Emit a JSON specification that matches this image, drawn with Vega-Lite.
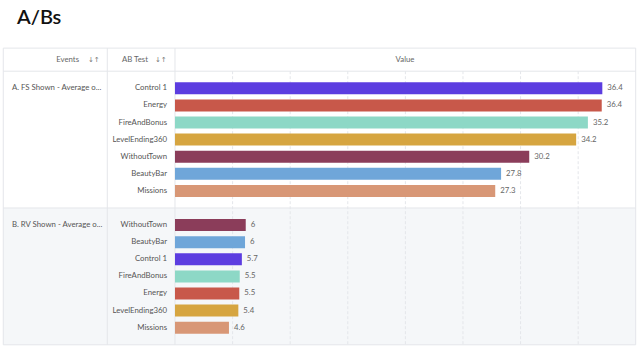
{
  "$schema": "https://vega.github.io/schema/vega-lite/v6.json",
  "width": 640,
  "height": 358,
  "autosize": {"type": "none"},
  "padding": 0,
  "background": "white",
  "config": {"view": {"stroke": null}, "font": "Lato", "text": {"font": "Lato"}},
  "datasets": {
    "abtests": [
      {"Event": "A. FS Shown - Average o...", "AB Test": "Control 1", "Value": 36.43},
      {"Event": "A. FS Shown - Average o...", "AB Test": "Energy", "Value": 36.38},
      {"Event": "A. FS Shown - Average o...", "AB Test": "FireAndBonus", "Value": 35.2},
      {"Event": "A. FS Shown - Average o...", "AB Test": "LevelEnding360", "Value": 34.2},
      {"Event": "A. FS Shown - Average o...", "AB Test": "WithoutTown", "Value": 30.2},
      {"Event": "A. FS Shown - Average o...", "AB Test": "BeautyBar", "Value": 27.8},
      {"Event": "A. FS Shown - Average o...", "AB Test": "Missions", "Value": 27.3},
      {"Event": "B. RV Shown - Average o...", "AB Test": "WithoutTown", "Value": 6.03},
      {"Event": "B. RV Shown - Average o...", "AB Test": "BeautyBar", "Value": 5.97},
      {"Event": "B. RV Shown - Average o...", "AB Test": "Control 1", "Value": 5.7},
      {"Event": "B. RV Shown - Average o...", "AB Test": "FireAndBonus", "Value": 5.52},
      {"Event": "B. RV Shown - Average o...", "AB Test": "Energy", "Value": 5.48},
      {"Event": "B. RV Shown - Average o...", "AB Test": "LevelEnding360", "Value": 5.4},
      {"Event": "B. RV Shown - Average o...", "AB Test": "Missions", "Value": 4.6}
    ],
    "gridlines": [{"at": 4.91}, {"at": 9.82}, {"at": 14.73}, {"at": 19.64}, {"at": 24.55}, {"at": 29.46}, {"at": 34.37}]
  },
  "layer": [
    {
      "data": {"values": [{}]},
      "mark": {"type": "rect", "fill": "#f5f7f9"},
      "encoding": {
        "x": {"datum": -14.64, "type": "quantitative", "axis": null, "scale": {"domain": [-14.919, 39.642], "nice": false, "zero": false}},
        "x2": {"datum": 39.275},
        "y": {"datum": "gap", "type": "nominal", "axis": null, "scale": {"domain": ["title","pad","header","hline","A:Control 1","A:Energy","A:FireAndBonus","A:LevelEnding360","A:WithoutTown","A:BeautyBar","A:Missions","gap","B:WithoutTown","B:BeautyBar","B:Control 1","B:FireAndBonus","B:Energy","B:LevelEnding360","B:Missions","end"], "paddingInner": 0.3, "paddingOuter": 0.618, "align": 0.6585, "round": false}},
        "y2": {"datum": "end"}
      }
    },
    {
      "data": {"name": "gridlines"},
      "mark": {"type": "rule", "stroke": "#e4e6ea", "strokeWidth": 1, "strokeDash": [3, 2]},
      "encoding": {
        "x": {"field": "at", "type": "quantitative", "axis": null, "scale": {"domain": [-14.919, 39.642], "nice": false, "zero": false}},
        "y": {"datum": "hline", "type": "nominal", "axis": null},
        "y2": {"datum": "end"}
      }
    },
    {
      "data": {"values": [{"line": "hline"}, {"line": "gap"}, {"line": "end"}]},
      "mark": {"type": "rule", "stroke": "#e4e6ea", "strokeWidth": 1},
      "encoding": {
        "x": {"datum": -14.64, "type": "quantitative", "axis": null, "scale": {"domain": [-14.919, 39.642], "nice": false, "zero": false}},
        "x2": {"datum": 39.275},
        "y": {"field": "line", "type": "nominal", "axis": null}
      }
    },
    {
      "data": {"values": [{}]},
      "mark": {"type": "rule", "stroke": "#e4e6ea", "strokeWidth": 1},
      "encoding": {
        "x": {"datum": -14.64, "type": "quantitative", "axis": null, "scale": {"domain": [-14.919, 39.642], "nice": false, "zero": false}},
        "x2": {"datum": 39.275},
        "y": {"datum": "header", "type": "nominal", "bandPosition": 0, "axis": null}
      }
    },
    {
      "data": {"values": [{}]},
      "mark": {"type": "rule", "stroke": "#e4e6ea", "strokeWidth": 1},
      "encoding": {
        "x": {"datum": -14.64, "type": "quantitative", "axis": null, "scale": {"domain": [-14.919, 39.642], "nice": false, "zero": false}},
        "y": {"datum": "header", "type": "nominal", "bandPosition": 0, "axis": null},
        "y2": {"datum": "end"}
      }
    },
    {
      "data": {"values": [{}]},
      "mark": {"type": "rule", "stroke": "#e4e6ea", "strokeWidth": 1},
      "encoding": {
        "x": {"datum": -5.772, "type": "quantitative", "axis": null, "scale": {"domain": [-14.919, 39.642], "nice": false, "zero": false}},
        "y": {"datum": "header", "type": "nominal", "bandPosition": 0, "axis": null},
        "y2": {"datum": "end"}
      }
    },
    {
      "data": {"values": [{}]},
      "mark": {"type": "rule", "stroke": "#e4e6ea", "strokeWidth": 1},
      "encoding": {
        "x": {"datum": 0, "type": "quantitative", "axis": null, "scale": {"domain": [-14.919, 39.642], "nice": false, "zero": false}},
        "y": {"datum": "header", "type": "nominal", "bandPosition": 0, "axis": null},
        "y2": {"datum": "end"}
      }
    },
    {
      "data": {"values": [{}]},
      "mark": {"type": "rule", "stroke": "#e4e6ea", "strokeWidth": 1},
      "encoding": {
        "x": {"datum": 39.275, "type": "quantitative", "axis": null, "scale": {"domain": [-14.919, 39.642], "nice": false, "zero": false}},
        "y": {"datum": "header", "type": "nominal", "bandPosition": 0, "axis": null},
        "y2": {"datum": "end"}
      }
    },
    {
      "data": {"name": "abtests"},
      "transform": [{"calculate": "substring(datum.Event, 0, 1) + ':' + datum['AB Test']", "as": "row"}],
      "mark": {"type": "bar"},
      "encoding": {
        "x": {"field": "Value", "type": "quantitative", "axis": null, "scale": {"domain": [-14.919, 39.642], "nice": false, "zero": false}},
        "y": {"field": "row", "type": "nominal", "axis": null},
        "color": {"field": "AB Test", "type": "nominal", "legend": null, "scale": {"domain": ["Control 1", "Energy", "FireAndBonus", "LevelEnding360", "WithoutTown", "BeautyBar", "Missions"], "range": ["#5c3de0", "#c8584a", "#8dd8c6", "#d6a540", "#8b3d5a", "#6fa6d9", "#d89776"]}}
      }
    },
    {
      "data": {"name": "abtests"},
      "transform": [{"calculate": "substring(datum.Event, 0, 1) + ':' + datum['AB Test']", "as": "row"}],
      "mark": {"type": "text", "align": "left", "baseline": "middle", "dx": 5, "fontSize": 7.8, "fill": "#666666"},
      "encoding": {
        "x": {"field": "Value", "type": "quantitative", "axis": null, "scale": {"domain": [-14.919, 39.642], "nice": false, "zero": false}},
        "y": {"field": "row", "type": "nominal", "axis": null},
        "text": {"field": "Value", "type": "quantitative", "format": ".1~f"}
      }
    },
    {
      "data": {"name": "abtests"},
      "transform": [{"calculate": "substring(datum.Event, 0, 1) + ':' + datum['AB Test']", "as": "row"}],
      "mark": {"type": "text", "align": "right", "baseline": "middle", "fontSize": 7.8, "fill": "#555555"},
      "encoding": {
        "x": {"datum": -0.68, "type": "quantitative", "axis": null, "scale": {"domain": [-14.919, 39.642], "nice": false, "zero": false}},
        "y": {"field": "row", "type": "nominal", "axis": null},
        "text": {"field": "AB Test", "type": "nominal"}
      }
    },
    {
      "data": {"name": "abtests"},
      "transform": [
        {"calculate": "substring(datum.Event, 0, 1) + ':' + datum['AB Test']", "as": "row"},
        {"window": [{"op": "row_number", "as": "rank"}], "sort": [{"field": "Value", "order": "descending"}], "groupby": ["Event"]},
        {"filter": "datum.rank == 1"}
      ],
      "mark": {"type": "text", "align": "left", "baseline": "middle", "fontSize": 7.8, "fill": "#555555"},
      "encoding": {
        "x": {"datum": -13.9, "type": "quantitative", "axis": null, "scale": {"domain": [-14.919, 39.642], "nice": false, "zero": false}},
        "y": {"field": "row", "type": "nominal", "axis": null},
        "text": {"field": "Event", "type": "nominal"}
      }
    },
    {
      "data": {"values": [{}]},
      "mark": {"type": "text", "align": "left", "baseline": "middle", "fontSize": 20, "fontWeight": 600, "fill": "#111111"},
      "encoding": {
        "x": {"datum": -13.47, "type": "quantitative", "axis": null, "scale": {"domain": [-14.919, 39.642], "nice": false, "zero": false}},
        "y": {"datum": "title", "type": "nominal", "bandPosition": 0.3, "axis": null},
        "text": {"value": "A/Bs"}
      }
    },
    {
      "data": {"values": [{}]},
      "mark": {"type": "text", "align": "right", "baseline": "middle", "fontSize": 7.8, "fill": "#666666"},
      "encoding": {
        "x": {"datum": -8.18, "type": "quantitative", "axis": null, "scale": {"domain": [-14.919, 39.642], "nice": false, "zero": false}},
        "y": {"datum": "header", "type": "nominal", "bandPosition": 1, "axis": null},
        "text": {"value": "Events"}
      }
    },
    {
      "data": {"values": [{}]},
      "mark": {"type": "text", "align": "left", "baseline": "middle", "fontSize": 7.8, "fill": "#666666"},
      "encoding": {
        "x": {"datum": -4.52, "type": "quantitative", "axis": null, "scale": {"domain": [-14.919, 39.642], "nice": false, "zero": false}},
        "y": {"datum": "header", "type": "nominal", "bandPosition": 1, "axis": null},
        "text": {"value": "AB Test"}
      }
    },
    {
      "data": {"values": [{}]},
      "mark": {"type": "text", "align": "center", "baseline": "middle", "fontSize": 7.8, "fill": "#666666"},
      "encoding": {
        "x": {"datum": 19.61, "type": "quantitative", "axis": null, "scale": {"domain": [-14.919, 39.642], "nice": false, "zero": false}},
        "y": {"datum": "header", "type": "nominal", "bandPosition": 1, "axis": null},
        "text": {"value": "Value"}
      }
    },
    {
      "data": {"values": [{}]},
      "mark": {"type": "text", "align": "left", "baseline": "middle", "fontSize": 7, "fill": "#777777", "font": "DejaVu Sans"},
      "encoding": {
        "x": {"datum": -7.42, "type": "quantitative", "axis": null, "scale": {"domain": [-14.919, 39.642], "nice": false, "zero": false}},
        "y": {"datum": "header", "type": "nominal", "bandPosition": 1, "axis": null},
        "text": {"value": "↓↑"}
      }
    },
    {
      "data": {"values": [{}]},
      "mark": {"type": "text", "align": "left", "baseline": "middle", "fontSize": 7, "fill": "#777777", "font": "DejaVu Sans"},
      "encoding": {
        "x": {"datum": -1.71, "type": "quantitative", "axis": null, "scale": {"domain": [-14.919, 39.642], "nice": false, "zero": false}},
        "y": {"datum": "header", "type": "nominal", "bandPosition": 1, "axis": null},
        "text": {"value": "↓↑"}
      }
    }
  ]
}
